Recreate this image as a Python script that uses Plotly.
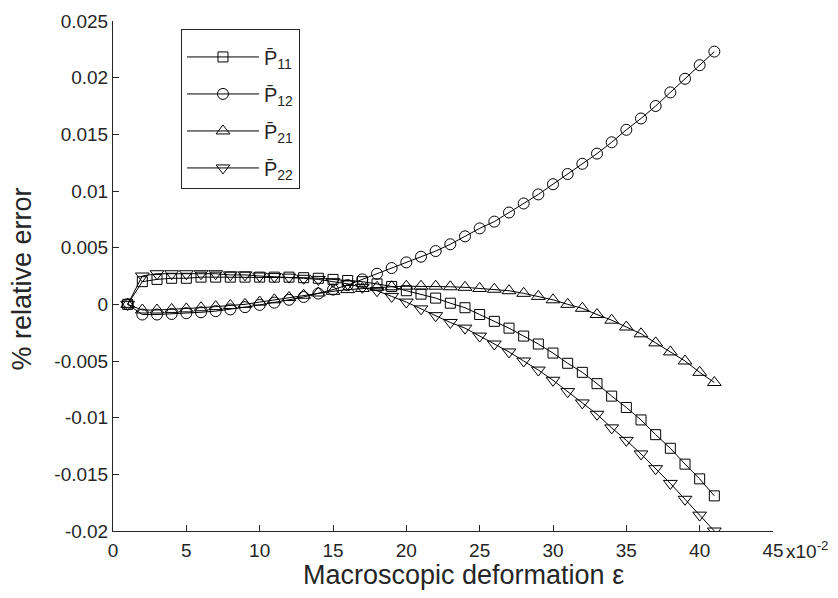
import plotly.graph_objects as go

# Macroscopic deformation (x10^-2)
eps = [1, 2, 3, 4, 5, 6, 7, 8, 9, 10, 11, 12, 13, 14, 15, 16, 17, 18, 19, 20, 21,
       22, 23, 24, 25, 26, 27, 28, 29, 30, 31, 32, 33, 34, 35, 36, 37, 38, 39, 40, 41]

p11 = [0, 0.0020, 0.0022, 0.0023, 0.0023, 0.0024, 0.0024, 0.0024, 0.0024, 0.0024,
       0.0024, 0.0024, 0.00235, 0.0023, 0.0022, 0.0021, 0.0020, 0.0018, 0.00158, 0.0012,
       0.0009, 0.00055, 0.0001, -0.0003, -0.0009, -0.0015, -0.0021, -0.0028, -0.0035, -0.0043,
       -0.0052, -0.0060, -0.0070, -0.0081, -0.0091, -0.0102, -0.0115, -0.0127, -0.0141, -0.0154,
       -0.0169]

p12 = [0, -0.0009, -0.0009, -0.00085, -0.00078, -0.0007, -0.0006, -0.00045, -0.00025, -0.00005,
       0.00015, 0.0004, 0.00065, 0.00095, 0.0013, 0.0017, 0.0022, 0.0027, 0.0032, 0.0037,
       0.0042, 0.0047, 0.0053, 0.0060, 0.0067, 0.0073, 0.0081, 0.0089, 0.0097, 0.0106,
       0.0115, 0.0124, 0.0133, 0.0143, 0.0154, 0.0164, 0.0175, 0.0187, 0.0199, 0.0211,
       0.0223]

p21 = [0, -0.0005, -0.0005, -0.00045, -0.0004, -0.0003, -0.0002, -0.0001, 0.0, 0.0002,
       0.0004, 0.0006, 0.0008, 0.0010, 0.00115, 0.0013, 0.0014, 0.0015, 0.00155, 0.0016,
       0.0016, 0.0016, 0.00155, 0.0015, 0.0014, 0.00133, 0.0012, 0.00097, 0.0007, 0.0004,
       0.0000, -0.00035, -0.0009, -0.0014, -0.0020, -0.0026, -0.0034, -0.0042, -0.0050, -0.0060,
       -0.0069]

p22 = [0, 0.0025, 0.0027, 0.0027, 0.0027, 0.0027, 0.0027, 0.0026, 0.0026, 0.0025,
       0.00245, 0.0024, 0.0023, 0.0022, 0.0020, 0.0018, 0.0015, 0.0012, 0.0007, 0.0002,
       -0.0004, -0.0010, -0.0016, -0.0021, -0.0028, -0.0035, -0.0042, -0.0050, -0.0058, -0.0067,
       -0.0077, -0.0087, -0.0097, -0.0109, -0.0120, -0.0132, -0.0145, -0.0158, -0.0172, -0.0186,
       -0.0200]

series_names = ["P\u0304<sub>11</sub>", "P\u0304<sub>12</sub>", "P\u0304<sub>21</sub>", "P\u0304<sub>22</sub>"]
symbols = ["square-open", "circle-open", "triangle-up-open", "triangle-down-open"]
sizes = [10, 11, 12, 12]

xtick_vals = [0, 5, 10, 15, 20, 25, 30, 35, 40, 45]
xtick_text = ["0", "5", "10", "15", "20", "25", "30", "35", "40", "45"]
ytick_vals = [0.025, 0.02, 0.015, 0.01, 0.005, 0, -0.005, -0.01, -0.015, -0.02]
ytick_text = ["0.025", "0.02", "0.015", "0.01", "0.005", "0", "-0.005", "-0.01", "-0.015", "-0.02"]

FONT = "Liberation Sans, Arial, sans-serif"
TXT = "#262626"

fig = go.Figure()
for i, (ys, name, sym, sz) in enumerate(zip([p11, p12, p21, p22], series_names, symbols, sizes)):
    fig.add_trace(go.Scatter(
        x=eps, y=ys, name=name, mode="lines+markers",
        line=dict(color="black", width=1),
        marker=dict(symbol=sym, size=sz, color="black", line=dict(color="black", width=1)),
        legendgroup="g%d" % i,
    ))

fig.update_layout(
    width=838, height=598,
    margin=dict(l=113, r=65, t=11, b=67),
    paper_bgcolor="white", plot_bgcolor="white",
    font=dict(family=FONT, color=TXT, size=19),
    showlegend=True,
    legend=dict(
        x=0.103, y=0.985, xanchor="left", yanchor="top",
        bgcolor="white", bordercolor=TXT, borderwidth=1,
        font=dict(family=FONT, size=20, color=TXT),
        title=dict(text=" ", font=dict(size=6)),
        tracegroupgap=8, itemwidth=72,
    ),
    xaxis=dict(
        range=[0, 45], tickmode="array", tickvals=xtick_vals, ticktext=xtick_text,
        ticks="inside", ticklen=6, tickcolor=TXT, showline=True, linecolor=TXT, linewidth=1,
        showgrid=False, zeroline=False, tickfont=dict(size=19, color=TXT, family=FONT),
        ticklabelstandoff=2,
    ),
    yaxis=dict(
        range=[-0.02, 0.025], tickmode="array", tickvals=ytick_vals, ticktext=ytick_text,
        ticks="inside", ticklen=6, tickcolor=TXT, showline=True, linecolor=TXT, linewidth=1,
        showgrid=False, zeroline=False, tickfont=dict(size=19, color=TXT, family=FONT),
    ),
    annotations=[
        dict(text="Macroscopic deformation \u03b5", xref="paper", yref="paper",
             x=0.531, y=-0.0865, xanchor="center", yanchor="middle", showarrow=False,
             font=dict(size=27, family=FONT, color=TXT)),
        dict(text="% relative error", xref="paper", yref="paper", textangle=-90,
             x=-0.138, y=0.495, xanchor="center", yanchor="middle", showarrow=False,
             font=dict(size=27, family=FONT, color=TXT)),
        dict(text="x10<sup>-2</sup>", xref="paper", yref="paper",
             x=1.0174, y=-0.0365, xanchor="left", yanchor="middle", showarrow=False,
             font=dict(size=19, family=FONT, color=TXT)),
    ],
)

fig.write_html("out.html", config={"displayModeBar": False},
               post_script="document.body.style.margin='0px';")
